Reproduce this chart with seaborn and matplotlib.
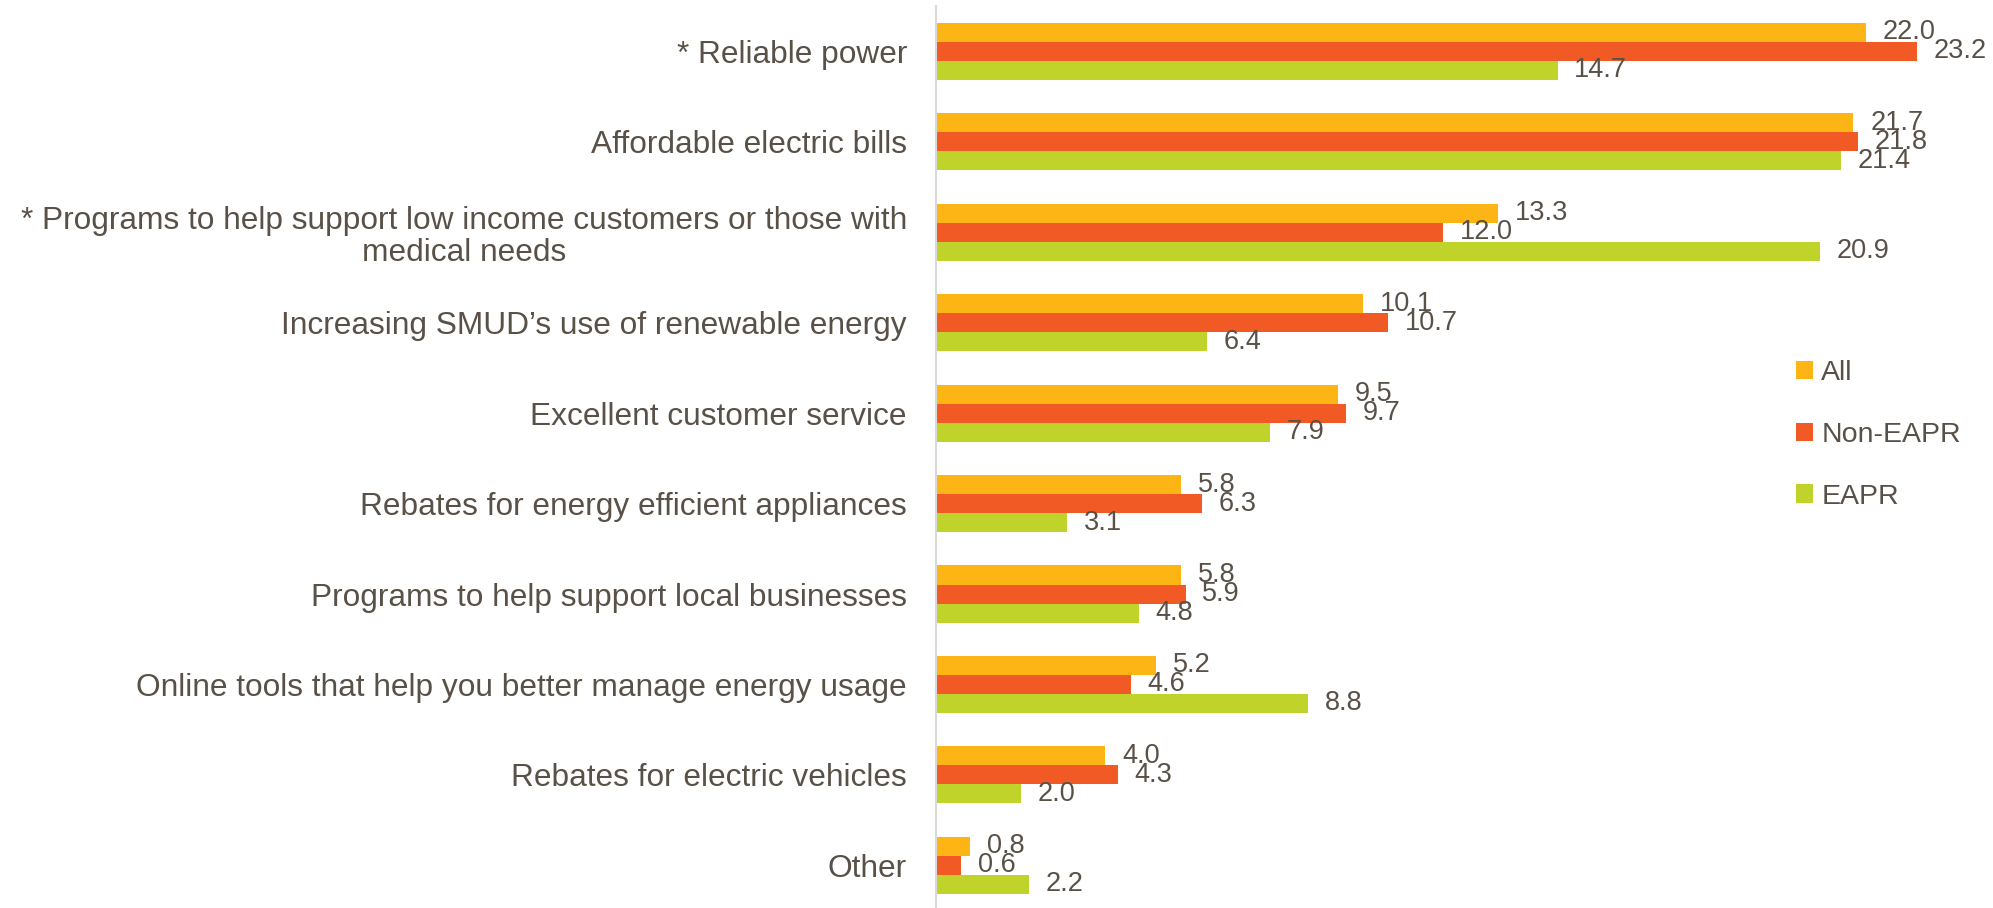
import matplotlib
matplotlib.use("Agg")
import matplotlib.pyplot as plt
import seaborn as sns
import pandas as pd
from matplotlib.patches import Patch

categories = [
    "* Reliable power",
    "Affordable electric bills",
    "* Programs to help support low income customers or those with\nmedical needs",
    "Increasing SMUD\u2019s use of renewable energy",
    "Excellent customer service",
    "Rebates for energy efficient appliances",
    "Programs to help support local businesses",
    "Online tools that help you better manage energy usage",
    "Rebates for electric vehicles",
    "Other",
]
series_names = ["All", "Non-EAPR", "EAPR"]
all_vals = [22.0, 21.7, 13.3, 10.1, 9.5, 5.8, 5.8, 5.2, 4.0, 0.8]
non_eapr_vals = [23.2, 21.8, 12.0, 10.7, 9.7, 6.3, 5.9, 4.6, 4.3, 0.6]
eapr_vals = [14.7, 21.4, 20.9, 6.4, 7.9, 3.1, 4.8, 8.8, 2.0, 2.2]
colors = ["#FDB515", "#F15A24", "#C0D32A"]

TEXT = "#595047"

rows = []
for name, vals in zip(series_names, [all_vals, non_eapr_vals, eapr_vals]):
    for c, v in zip(categories, vals):
        rows.append({"category": c, "group": name, "value": v})
df = pd.DataFrame(rows)

sns.set_style("white")
plt.rcParams["font.family"] = ["Liberation Sans", "DejaVu Sans"]

fig = plt.figure(figsize=(19.93, 9.08), dpi=100)
ax = fig.add_axes([0.4697, -0.003, 0.5303, 0.9966])

sns.barplot(data=df, y="category", x="value", hue="group", orient="h",
            order=categories, hue_order=series_names, palette=colors,
            width=0.63, linewidth=0, saturation=1, legend=False, ax=ax)

for cont in ax.containers:
    ax.bar_label(cont, fmt="%.1f", padding=12, fontsize=19.5, color=TEXT)

ax.set_xlim(0, 25)
ax.set_ylim(len(categories) - 0.5, -0.5)
ax.set_xlabel("")
ax.set_ylabel("")
ax.set_xticks([])
ax.tick_params(axis="y", length=0, pad=21, labelsize=22.8, labelcolor=TEXT)
for lbl in ax.get_yticklabels():
    lbl.set_multialignment("center")
    lbl.set_linespacing(1.1)

for side in ["top", "right", "bottom"]:
    ax.spines[side].set_visible(False)
ax.spines["left"].set_color("#D9D9D9")
ax.spines["left"].set_linewidth(1.5)

handles = [Patch(facecolor=c, edgecolor="none", label=n) for c, n in zip(colors, series_names)]
leg = fig.legend(handles=handles, loc="center left", bbox_to_anchor=(0.901, 0.521),
                 frameon=False, fontsize=20.5, handlelength=0.6, handleheight=0.6,
                 handletextpad=0.3, labelspacing=1.25, borderaxespad=0, borderpad=0)
for t in leg.get_texts():
    t.set_color(TEXT)

fig.savefig("out.png", dpi=100, facecolor="white")
